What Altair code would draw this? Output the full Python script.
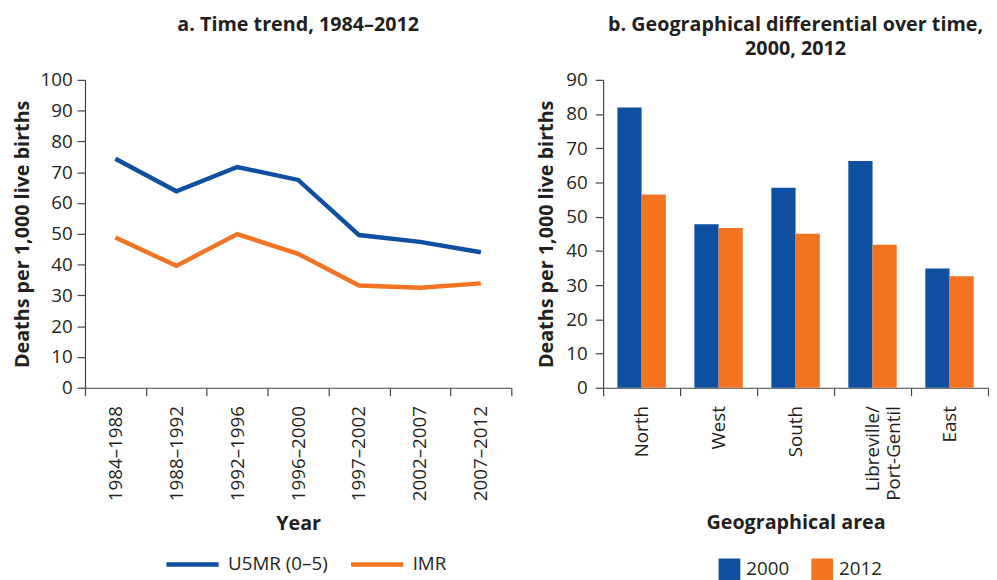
import altair as alt
import pandas as pd

# ---- data (panel a) ----
periods = ["1984–1988", "1988–1992", "1992–1996", "1996–2000", "1997–2002", "2002–2007", "2007–2012"]
u5mr = [74.4, 63.8, 71.7, 67.5, 49.6, 47.4, 44.0]
imr = [48.8, 39.6, 49.9, 43.5, 33.2, 32.5, 33.9]
series_names = ["U5MR (0–5)", "IMR"]

# ---- data (panel b) ----
areas = ["North", "West", "South", "Libreville/Port-Gentil", "East"]
rate_2000 = [81.9, 47.8, 58.5, 66.3, 34.9]
rate_2012 = [56.5, 46.7, 45.0, 41.8, 32.6]
years = ["2000", "2012"]

left_ticks = list(range(0, 101, 10))
right_ticks = list(range(0, 91, 10))

BLUE = "#0E4FA2"
ORANGE = "#F37321"
TEXT = "#231F20"
AXIS = "#444444"
FONT = "Open Sans"

line_df = pd.DataFrame({
    "Period": periods * 2,
    "Series": [series_names[0]] * len(periods) + [series_names[1]] * len(periods),
    "Value": u5mr + imr,
})
bar_df = pd.DataFrame({
    "Area": areas * 2,
    "Year": [years[0]] * len(areas) + [years[1]] * len(areas),
    "Value": rate_2000 + rate_2012,
})

left = alt.Chart(
    line_df,
    title=alt.Title(["a. Time trend, 1984–2012", " "]),
).mark_line(strokeWidth=4.5).encode(
    x=alt.X(
        "Period:N", sort=periods, bandPosition=0.5,
        scale=alt.Scale(type="band", paddingInner=0, paddingOuter=0),
        axis=alt.Axis(title="Year", labelAngle=270, tickBand="extent"),
    ),
    y=alt.Y(
        "Value:Q", scale=alt.Scale(domain=[0, 100], nice=False),
        axis=alt.Axis(values=left_ticks, title="Deaths per 1,000 live births",
                      labelPadding=5, titlePadding=8),
    ),
    color=alt.Color(
        "Series:N", sort=series_names,
        scale=alt.Scale(domain=series_names, range=[BLUE, ORANGE]),
        legend=alt.Legend(
            orient="none", direction="horizontal", title=None,
            legendX=80, legendY=462,
            symbolType="stroke", symbolStrokeWidth=4.5, symbolSize=2800,
            columnPadding=14, labelOffset=7,
        ),
    ),
).properties(width=432, height=312)

right = alt.Chart(
    bar_df,
    title=alt.Title(["b. Geographical differential over time,", "2000, 2012"]),
).mark_bar().encode(
    x=alt.X(
        "Area:N", sort=areas,
        scale=alt.Scale(paddingInner=0, paddingOuter=0),
        axis=alt.Axis(
            title="Geographical area", labelAngle=270, tickBand="extent",
            labelExpr="datum.label == 'Libreville/Port-Gentil' ? ['Libreville/', 'Port-Gentil'] : datum.label",
        ),
    ),
    xOffset=alt.XOffset("Year:N", sort=years, scale=alt.Scale(paddingOuter=0.59, paddingInner=0)),
    y=alt.Y(
        "Value:Q", scale=alt.Scale(domain=[0, 90], nice=False),
        axis=alt.Axis(values=right_ticks, title="Deaths per 1,000 live births",
                      labelPadding=8, titlePadding=10),
    ),
    color=alt.Color(
        "Year:N", sort=years,
        scale=alt.Scale(domain=years, range=[BLUE, ORANGE]),
        legend=alt.Legend(
            orient="none", direction="horizontal", title=None,
            legendX=117, legendY=485,
            symbolType="square", symbolSize=484, symbolStrokeWidth=0,
            columnPadding=22, labelOffset=6,
        ),
    ),
).properties(width=390, height=312)

chart = alt.hconcat(left, right, spacing=24).resolve_scale(
    color="independent"
).properties(
    padding={"left": 4, "top": 3, "right": 0, "bottom": 0},
).configure_view(
    stroke=None
).configure_axis(
    labelFont=FONT, labelFontSize=19, labelColor=TEXT,
    titleFont=FONT, titleFontSize=20, titleFontWeight="bold", titleColor=TEXT,
    domainColor=AXIS, tickColor=AXIS, tickSize=8, domainWidth=1.2, tickWidth=1.2,
    grid=False,
).configure_axisX(
    labelPadding=10, titlePadding=13,
).configure_title(
    font=FONT, fontSize=20, fontWeight="bold", color=TEXT,
    anchor="middle", offset=12, lineHeight=25,
).configure_legend(
    labelFont=FONT, labelFontSize=19, labelColor=TEXT,
)

chart.save("out.html", embed_options={"renderer": "svg", "actions": False})
